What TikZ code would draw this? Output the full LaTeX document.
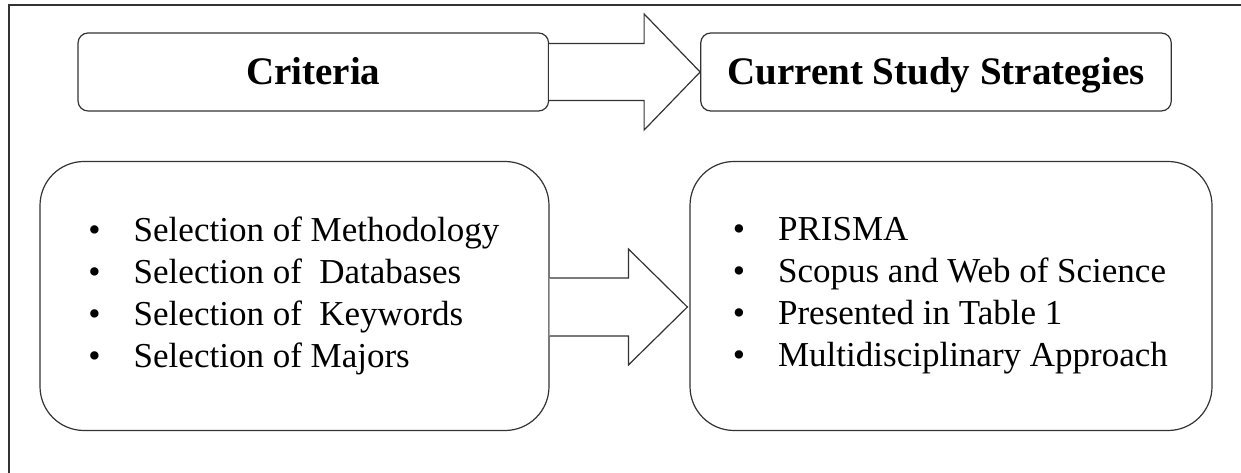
\documentclass[tikz,border=0pt]{standalone}
\usepackage{fontspec}
\setmainfont{Liberation Serif}
\usetikzlibrary{calc}
\tikzset{
  line/.style={draw=black!80, line width=0.9pt},
  titlebox/.style={line, rounded corners=7.5pt, minimum width=352.9pt, minimum height=58.5pt, inner sep=0pt,
     text height=24pt, text depth=4.5pt,
     font=\fontsize{29.25pt}{34pt}\selectfont\bfseries},
  listbox/.style={line, rounded corners=33pt, minimum height=201.75pt, inner sep=0pt,
     font=\fontsize{26.25pt}{31.5pt}\selectfont, align=left},
  blockarrow/.style={line, fill=white, line join=miter}
}
\newcommand{\bitem}[1]{\makebox[33pt][l]{\hspace{-1pt}\textbullet}#1}
\begin{document}
\begin{tikzpicture}[x=0.75pt, y=-0.75pt]
\useasboundingbox (0,0) rectangle (1241,473);
\fill[white] (0,0) rectangle (1241,473);
\draw[line] (9,474) -- (9,5) -- (1242,5);
\node[titlebox] (crit) at (313.3,72) {Criteria};
\node[titlebox] (css) at (936,72) {Current Study Strategies};
\node[listbox, minimum width=381.75pt] (left) at (294.5,296) {%
  \bitem{Selection of Methodology}\\
  \bitem{Selection of\ \ Databases}\\
  \bitem{Selection of\ \ Keywords}\\
  \bitem{Selection of Majors}};
\node[listbox, minimum width=391.5pt] (right) at (951,296) {%
  \bitem{PRISMA}\\
  \bitem{Scopus and Web of Science}\\
  \bitem{Presented in Table 1}\\
  \bitem{Multidisciplinary Approach}};
\draw[blockarrow] ($(crit.east)+(0,-28.5)$) -- ($(css.west)+(-56,-28.5)$) -- ($(css.west)+(-56,-58)$)
  -- (css.west) -- ($(css.west)+(-56,58)$) -- ($(css.west)+(-56,28.5)$) -- ($(crit.east)+(0,28.5)$);
\coordinate (rt) at ($(right.west)+(-2,11)$);
\draw[blockarrow] ($(left.east)+(0,-18)$) -- ($(rt)+(-59,-29)$) -- ($(rt)+(-59,-58)$)
  -- (rt) -- ($(rt)+(-59,58)$) -- ($(rt)+(-59,29)$) -- ($(left.east)+(0,40)$);
\end{tikzpicture}
\end{document}
